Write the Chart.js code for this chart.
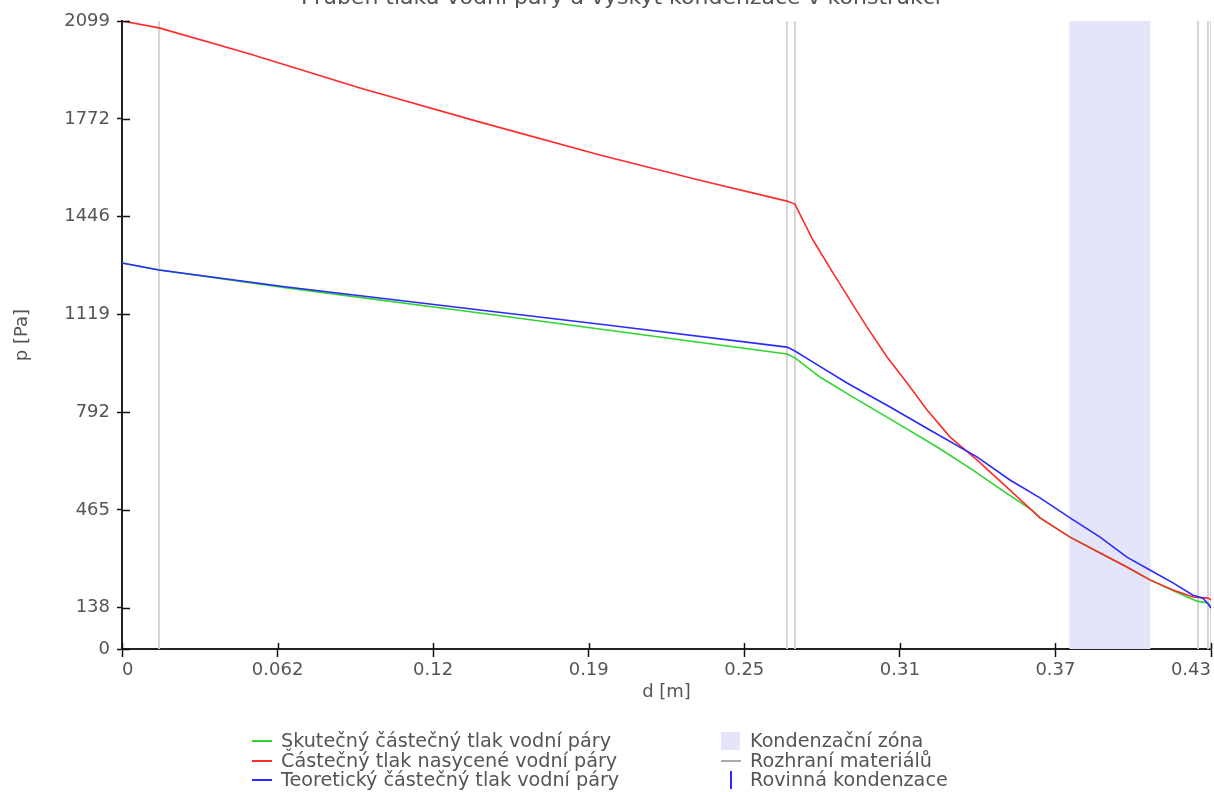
<!DOCTYPE html>
<html>
<head>
<meta charset="utf-8">
<script src="https://cdn.jsdelivr.net/npm/chart.js@4.4.1/dist/chart.umd.min.js"></script>
<style>
html, body { margin: 0; padding: 0; background: #fff; overflow: hidden; }
#wrap { position: relative; width: 1214px; height: 792px; font-family: "DejaVu Sans", sans-serif; color: #555; overflow: hidden; }
#chart { position: absolute; left: 0; top: 0; }
#title { position: absolute; left: 0; width: 1242px; top: -16px; text-align: center; font-size: 22px; line-height: 26px; white-space: nowrap; }
.leg { position: absolute; font-size: 19.2px; line-height: 20px; white-space: nowrap; height: 20px; }
.sym { position: absolute; }
</style>
</head>
<body>
<div id="wrap">
  <canvas id="chart" width="1214" height="792"></canvas>
  <div id="title">Průběh tlaku vodní páry a výskyt kondenzace v konstrukci</div>
  <div id="legend"></div>
</div>
<script>
// ---- data ----
const chartTitle = "Průběh tlaku vodní páry a výskyt kondenzace v konstrukci";
const xAxisTitle = "d [m]";
const yAxisTitle = "p [Pa]";

const xTickValues = [0, 0.06214, 0.12429, 0.18643, 0.24857, 0.31071, 0.37286, 0.435];
const xTickLabels = ["0", "0.062", "0.12", "0.19", "0.25", "0.31", "0.37", "0.43"];
const yTickValues = [0, 138, 465, 792, 1119, 1446, 1772, 2099];
const yTickLabels = ["0", "138", "465", "792", "1119", "1446", "1772", "2099"];

// Skutečný částečný tlak vodní páry (green)
const dActual = [0, 0.0148, 0.0659, 0.1430, 0.1937, 0.2656, 0.2688, 0.2788, 0.2920, 0.3096, 0.3256, 0.3399, 0.3503, 0.3639, 0.3667, 0.3787, 0.3907, 0.4014, 0.4106, 0.4150, 0.4246, 0.4294, 0.4338, 0.435];
const pActual = [1290, 1267, 1207, 1123, 1066, 986, 973, 909, 842, 755, 675, 598, 538, 462, 438, 374, 321, 274, 231, 214, 177, 160, 154, 137];

// Částečný tlak nasycené vodní páry (red)
const dSaturated = [0, 0.0148, 0.0511, 0.0951, 0.1430, 0.1909, 0.2308, 0.2656, 0.2688, 0.2760, 0.2840, 0.2908, 0.2976, 0.3056, 0.3136, 0.3216, 0.3307, 0.3415, 0.3547, 0.3667, 0.3787, 0.3907, 0.4014, 0.4106, 0.4198, 0.4278, 0.4338, 0.435];
const pSaturated = [2099, 2076, 1989, 1875, 1761, 1651, 1567, 1497, 1487, 1367, 1257, 1166, 1076, 976, 889, 799, 709, 632, 531, 438, 374, 321, 274, 231, 197, 174, 170, 164];

// Teoretický částečný tlak vodní páry (blue)
const dTheoretical = [0, 0.0148, 0.0659, 0.1430, 0.1937, 0.2656, 0.2688, 0.2760, 0.2896, 0.3068, 0.3227, 0.3415, 0.3547, 0.3667, 0.3787, 0.3907, 0.4014, 0.4106, 0.4198, 0.4278, 0.4318, 0.4342, 0.435];
const pTheoretical = [1290, 1267, 1210, 1133, 1083, 1009, 996, 959, 889, 809, 732, 642, 565, 505, 438, 374, 307, 264, 221, 180, 170, 147, 137];

// Rozhraní materiálů (material interfaces)
const dInterfaces = [0.0148, 0.2656, 0.2688, 0.4298, 0.4338, 0.435];

// Kondenzační zóna
const zoneStart = 0.3784;
const zoneEnd = 0.4109;

const xMax = 0.435;
const yMax = 2099;

const legendLabels = {
  actual: "Skutečný částečný tlak vodní páry",
  saturated: "Částečný tlak nasycené vodní páry",
  theoretical: "Teoretický částečný tlak vodní páry",
  zone: "Kondenzační zóna",
  interfaces: "Rozhraní materiálů",
  plane: "Rovinná kondenzace"
};

// ---- build ----
const COL_GREEN = "#2fd42f";
const COL_RED = "#ff2a2a";
const COL_BLUE = "#2a2aff";
const COL_GRAY = "#d6d6d6";
const COL_ZONE = "#e4e4fb";
const TEXT = "#555";

const pts = (xs, ys) => xs.map((x, i) => ({ x: x, y: ys[i] }));
const ifacePts = [];
dInterfaces.forEach(d => { ifacePts.push({ x: d, y: 0 }, { x: d, y: yMax }, { x: d, y: null }); });

const innerTicks = {
  id: "innerTicks",
  afterDraw(chart) {
    const { ctx, chartArea, scales } = chart;
    ctx.save();
    ctx.strokeStyle = "#111";
    ctx.lineWidth = 1.5;
    ctx.beginPath();
    xTickValues.forEach(v => {
      const px = Math.round(scales.x.getPixelForValue(v)) + 0.5;
      ctx.moveTo(px, chartArea.bottom);
      ctx.lineTo(px, chartArea.bottom - 6);
    });
    yTickValues.forEach(v => {
      const py = Math.round(scales.y.getPixelForValue(v)) + 0.5;
      ctx.moveTo(chartArea.left, py);
      ctx.lineTo(chartArea.left + 8, py);
    });
    ctx.stroke();
    ctx.restore();
  }
};

const tickFont = { family: "DejaVu Sans", size: 18 };

new Chart(document.getElementById("chart"), {
  type: "line",
  data: {
    datasets: [
      { label: legendLabels.theoretical, data: pts(dTheoretical, pTheoretical), borderColor: COL_BLUE, borderWidth: 1.6, pointRadius: 0, tension: 0, fill: false, order: 0 },
      { label: legendLabels.saturated, data: pts(dSaturated, pSaturated), borderColor: COL_RED, borderWidth: 1.6, pointRadius: 0, tension: 0, fill: false, order: 1 },
      { label: legendLabels.actual, data: pts(dActual, pActual), borderColor: COL_GREEN, borderWidth: 1.6, pointRadius: 0, tension: 0, fill: false, order: 2 },
      { label: legendLabels.interfaces, data: ifacePts, borderColor: COL_GRAY, borderWidth: 2, pointRadius: 0, spanGaps: false, fill: false, order: 3 },
      { label: legendLabels.zone, data: [{ x: zoneStart, y: yMax }, { x: zoneEnd, y: yMax }], borderWidth: 0, borderColor: "rgba(0,0,0,0)", backgroundColor: COL_ZONE, pointRadius: 0, fill: "origin", order: 4 }
    ]
  },
  options: {
    responsive: false,
    animation: false,
    devicePixelRatio: 1,
    events: [],
    layout: { padding: { top: 21, right: 3, bottom: 89, left: 0 } },
    plugins: { legend: { display: false }, title: { display: false }, tooltip: { enabled: false } },
    scales: {
      x: {
        type: "linear", min: 0, max: xMax,
        afterBuildTicks: s => { s.ticks = xTickValues.map(v => ({ value: v })); },
        afterFit: s => { s.height = 54; s.paddingLeft = 0; s.paddingRight = 0; },
        ticks: { autoSkip: false, maxRotation: 0, align: "inner", padding: 3, color: TEXT, font: tickFont, callback: (v, i) => xTickLabels[i] },
        grid: { drawOnChartArea: false, drawTicks: true, tickLength: 8, tickColor: "#111", tickWidth: 1.5 },
        border: { display: true, color: "#222", width: 2 },
        title: { display: true, text: xAxisTitle, color: TEXT, font: tickFont, padding: { top: 0, bottom: 0 } }
      },
      y: {
        type: "linear", min: 0, max: yMax,
        afterBuildTicks: s => { s.ticks = yTickValues.map(v => ({ value: v })); },
        afterFit: s => { s.width = 122; s.paddingTop = 0; s.paddingBottom = 0; },
        ticks: { autoSkip: false, padding: 7, color: TEXT, font: tickFont, callback: (v, i) => yTickLabels[i] },
        grid: { drawOnChartArea: false, drawTicks: true, tickLength: 5, tickColor: "#111", tickWidth: 1.5 },
        border: { display: true, color: "#222", width: 2 },
        title: { display: true, text: yAxisTitle, color: TEXT, font: tickFont, padding: { top: 12, bottom: 0 } }
      }
    }
  },
  plugins: [innerTicks]
});

// ---- HTML legend ----
const legend = document.getElementById("legend");
function addItem(left, top, symHtml, text) {
  const d = document.createElement("div");
  d.className = "leg";
  d.style.left = left + "px";
  d.style.top = top + "px";
  d.innerHTML = symHtml + '<span style="position:absolute;left:29px;top:0">' + text + "</span>";
  legend.appendChild(d);
}
const lineSym = c => '<span class="sym" style="left:0;top:9px;width:20px;height:2px;background:' + c + '"></span>';
const rows = [731, 751, 770];
addItem(252, rows[0], lineSym(COL_GREEN), legendLabels.actual);
addItem(252, rows[1], lineSym(COL_RED), legendLabels.saturated);
addItem(252, rows[2], lineSym(COL_BLUE), legendLabels.theoretical);
addItem(721, rows[0], '<span class="sym" style="left:0;top:1px;width:19px;height:18px;background:' + COL_ZONE + '"></span>', legendLabels.zone);
addItem(721, rows[1], '<span class="sym" style="left:0;top:9px;width:20px;height:2px;background:#aaa"></span>', legendLabels.interfaces);
addItem(721, rows[2], '<span class="sym" style="left:9px;top:1px;width:1.5px;height:18px;background:' + COL_BLUE + '"></span>', legendLabels.plane);
</script>
</body>
</html>
